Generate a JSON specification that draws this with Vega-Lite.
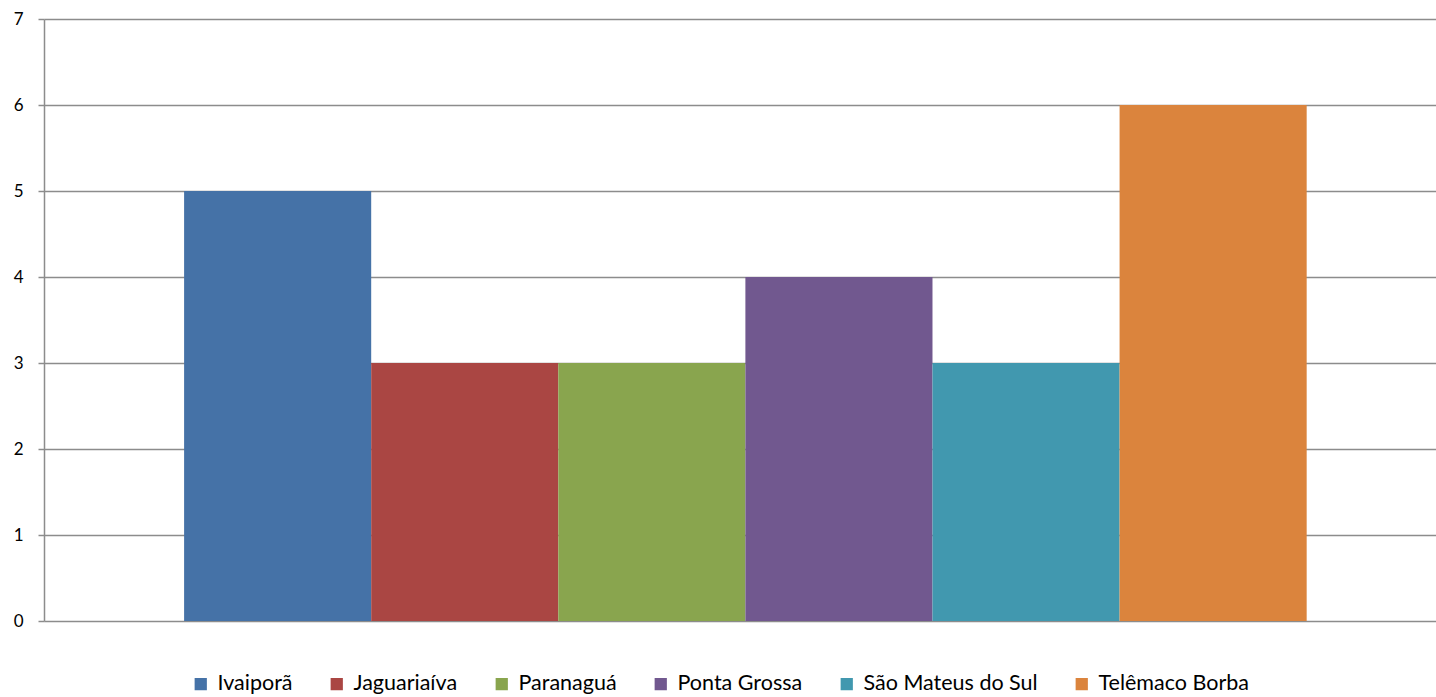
{
  "$schema": "https://vega.github.io/schema/vega-lite/v6.json",
  "width": 1392,
  "height": 602,
  "autosize": {"type": "none"},
  "padding": {"left": 44, "top": 19, "right": 0, "bottom": 76},
  "background": "white",
  "config": {"view": {"stroke": null}, "font": "Lato"},
  "data": {
    "values": [
      {"cidade": "Ivaiporã", "valor": 5},
      {"cidade": "Jaguariaíva", "valor": 3},
      {"cidade": "Paranaguá", "valor": 3},
      {"cidade": "Ponta Grossa", "valor": 4},
      {"cidade": "São Mateus do Sul", "valor": 3},
      {"cidade": "Telêmaco Borba", "valor": 6}
    ]
  },
  "mark": {"type": "bar"},
  "encoding": {
    "x": {
      "field": "cidade",
      "type": "nominal",
      "sort": null,
      "scale": {"paddingInner": 0, "paddingOuter": 0.72, "align": 0.52},
      "axis": null
    },
    "y": {
      "field": "valor",
      "type": "quantitative",
      "scale": {"domain": [0, 7], "nice": false},
      "axis": {
        "title": null,
        "values": [0, 1, 2, 3, 4, 5, 6, 7],
        "grid": true,
        "gridColor": "#8c8c8c",
        "gridWidth": 1.5,
        "gridOpacity": 1,
        "domainColor": "#8c8c8c",
        "domainWidth": 1.5,
        "tickColor": "#8c8c8c",
        "tickWidth": 1.5,
        "tickSize": 6,
        "labelPadding": 15,
        "labelFontSize": 17,
        "labelColor": "#000000",
        "labelFont": "Lato"
      }
    },
    "color": {
      "field": "cidade",
      "type": "nominal",
      "sort": null,
      "scale": {
        "domain": ["Ivaiporã", "Jaguariaíva", "Paranaguá", "Ponta Grossa", "São Mateus do Sul", "Telêmaco Borba"],
        "range": ["#4572A7", "#AA4643", "#89A54E", "#71588F", "#4198AF", "#DB843D"]
      },
      "legend": {
        "title": null,
        "orient": "none",
        "direction": "horizontal",
        "legendX": 146,
        "legendY": 654,
        "symbolType": "square",
        "symbolSize": 150,
        "symbolStrokeWidth": 0,
        "symbolOpacity": 1,
        "labelFontSize": 21.5,
        "labelFont": "Lato",
        "labelColor": "#000000",
        "labelOffset": 6,
        "labelLimit": 500,
        "columnPadding": 33
      }
    }
  }
}
